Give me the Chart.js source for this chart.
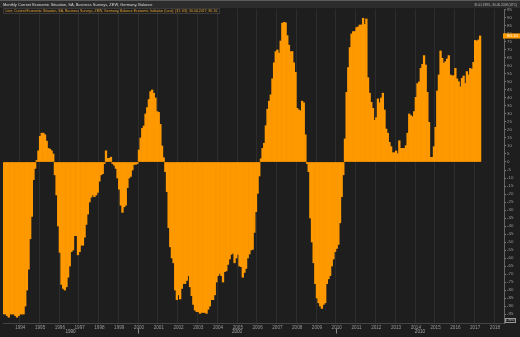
<!DOCTYPE html>
<html><head><meta charset="utf-8">
<script src="https://cdn.jsdelivr.net/npm/chart.js@4/dist/chart.umd.min.js"></script>
<style>
html,body{margin:0;padding:0;background:#1e1e1e;overflow:hidden;}
canvas{display:block;}
</style>
</head><body>
<canvas id="c" width="520" height="337"></canvas>
<script>
// ---- data ----
const titleText = 'Monthly Current Economic Situation, SA, Business Surveys, ZEW, Germany, Balance';
const rangeText = '31.01.1993 - 30.06.2018 (UTC)';
const legendText = 'Line; Current Economic Situation, SA, Business Surveys, ZEW, Germany, Balance Economic Indicator (Last); (31; 63); 30.04.2017; 80.10';
const lastValueLabel = '80.10';
const firstMonth = {year: 1993, month: 3};
const lastMonth = {year: 2018, month: 6};
const decadeLabels = ['1990', '2000', '2010'];
const yTickLabels = [95,90,85,80,75,70,65,60,55,50,45,40,35,30,25,20,15,10,5,0,-5,-10,-15,-20,-25,-30,-35,-40,-45,-50,-55,-60,-65,-70,-75,-80,-85,-90,-95];

const v1993 = [-95,-95,-96,-97,-95,-95,-95,-96,-97,-96];
const v1994 = [-95,-95,-95,-90,-80,-67,-48,-34,-11,-4,1,7];
const v1995 = [16,18,18,17,13,8.5,8,7,5,-8,-20.6,-40];
const v1996 = [-56.5,-76.5,-79,-80,-78,-72,-65,-56,-55,-46,-46,-58];
const v1997 = [-56,-52,-52,-47,-39,-32.5,-25,-22,-20.6,-21.7,-20.6,-19];
const v1998 = [-12,-8,-7.3,-1,7,2.3,2.3,3,-1,-2,-4,-10];
const v1999 = [-17,-27,-31.5,-28,-27,-16,-10,-9,-5,-1.5,-1.5,-1];
const v2000 = [7.5,15,21,22.5,30,34,39,44,45,43,40,31.5];
const v2001 = [31,23.5,10,2.7,-6,-18.5,-41,-53,-60,-63,-80,-86];
const v2002 = [-83,-85.6,-79,-76,-76,-74,-71,-78,-83.5,-89,-92.5,-93.5];
const v2003 = [-93.5,-94.6,-94,-94,-94,-94.6,-92,-90,-86,-86,-83,-75];
const v2004 = [-71,-69.6,-71,-75,-68.5,-68,-64,-60.6,-57.7,-57,-63,-60];
const v2005 = [-57.7,-65,-65.4,-72,-69,-66.5,-60,-57.5,-55,-54.6,-44,-31];
const v2006 = [-19.6,-8.75,2,8.5,11.7,22.7,33,38,42,52,62,69];
const v2007 = [70,68,75.6,86.7,87.3,87,79,73,69,69,62,56];
const v2008 = [33.5,32.5,32,38,37,17,-1,-6,-35,-50,-63,-76];
const v2009 = [-85,-88,-90,-91.5,-89,-88,-76,-73,-71,-65,-60.6,-56];
const v2010 = [-54,-51.5,-38,-21.7,-8,14.4,43.5,59,71.5,80,81.5,81.5];
const v2011 = [84,84.4,85.6,85.6,89.8,86,89.4,52.7,43,37.3,33.5,26];
const v2012 = [27.7,39.4,37,40,43,32.5,20.6,18,12.3,9.6,5.8,5.8];
const v2013 = [6.9,5.2,13.3,8.5,8.5,8.5,10.2,18,30,29,28.3,31.5];
const v2014 = [40.4,49,50,58.5,61,66.5,60.6,43.5,24.8,2.9,2.9,9.6];
const v2015 = [21.7,44.4,54.4,69.4,64.8,61.7,62.7,64.4,66.5,54.4,53.75,54];
const v2016 = [58.5,51.9,50.2,47,52.3,53.75,49,56.5,54.4,58.5,58,62.3];
const v2017 = [76,75.6,76.25,78.75];

// category labels (months)
const categories = [];
for (let y = firstMonth.year, m = firstMonth.month; y < lastMonth.year || (y === lastMonth.year && m <= lastMonth.month); ) {
  categories.push(y + '-' + String(m).padStart(2, '0'));
  m++; if (m > 12) { m = 1; y++; }
}
const observed = [].concat(v1993,v1994,v1995,v1996,v1997,v1998,v1999,v2000,v2001,v2002,v2003,v2004,v2005,v2006,v2007,v2008,v2009,v2010,v2011,v2012,v2013,v2014,v2015,v2016,v2017);
const values = categories.map((c, i) => i < observed.length ? observed[i] : null);

// ---- style ----
const BG = '#1e1e1e';
const ORANGE = '#ff9900';
const FONT = "'Liberation Sans', Arial, sans-serif";

function fitFont(ctx, text, targetWidth, base) {
  ctx.font = base + 'px ' + FONT;
  const w = ctx.measureText(text).width;
  return Math.max(3, base * targetWidth / w);
}

const decor = {
  id: 'decor',
  beforeDraw(chart) {
    const c = chart.ctx;
    c.save();
    c.fillStyle = BG;
    c.fillRect(0, 0, chart.width, chart.height);
    c.fillStyle = '#2c2c2c';
    c.fillRect(0, 0, chart.width, 8);
    c.fillStyle = '#5a5a5a';
    c.fillRect(0, 0, chart.width, 1);
    c.restore();
  },
  afterDraw(chart) {
    const c = chart.ctx;
    const xs = chart.scales.x, ys = chart.scales.y;
    const area = chart.chartArea;
    c.save();
    let fs = fitFont(c, titleText, 150, 5);
    c.font = fs + 'px ' + FONT;
    c.fillStyle = '#dcdcdc';
    c.textBaseline = 'middle';
    c.textAlign = 'left';
    c.fillText(titleText, 3, 4.8);
    fs = fitFont(c, rangeText, 43, 4);
    c.font = fs + 'px ' + FONT;
    c.fillStyle = '#bdbdbd';
    c.textAlign = 'right';
    c.fillText(rangeText, 517, 4.8);
    c.strokeStyle = '#3a3a3a';
    c.lineWidth = 1;
    c.strokeRect(3.5, 8.5, 216, 5);
    fs = fitFont(c, legendText, 212, 4);
    c.font = fs + 'px ' + FONT;
    c.fillStyle = '#e0a030';
    c.textAlign = 'left';
    c.fillText(legendText, 5.5, 11.2);
    const edge = i => (xs.getPixelForValue(i - 1) + xs.getPixelForValue(i)) / 2;
    const b2000 = edge(categories.indexOf('2000-01'));
    const b2010 = edge(categories.indexOf('2010-01'));
    const spans = [[area.left, b2000], [b2000, b2010], [b2010, area.right]];
    c.font = '4.6px ' + FONT;
    c.fillStyle = '#a8a8a8';
    c.textAlign = 'center';
    spans.forEach((s, k) => c.fillText(decadeLabels[k], (s[0] + s[1]) / 2, 331.5));
    c.strokeStyle = '#8a8a8a';
    [b2000, b2010].forEach(x => { c.beginPath(); c.moveTo(Math.round(x) + 0.5, 328.5); c.lineTo(Math.round(x) + 0.5, 333.5); c.stroke(); });
    const lastY = ys.getPixelForValue(observed[observed.length - 1]);
    c.fillStyle = ORANGE;
    c.fillRect(area.right - 1, lastY - 2.6, chart.width - area.right + 1, 5.2);
    c.font = '4.4px ' + FONT;
    c.fillStyle = '#ffffff';
    c.textAlign = 'left';
    c.fillText(lastValueLabel, area.right + 3, lastY + 0.2);
    c.strokeStyle = '#9a9a9a';
    c.strokeRect(505.5, 318.5, 10, 4);
    c.fillStyle = '#bbbbbb';
    c.font = '3px ' + FONT;
    c.textAlign = 'center';
    c.fillText('Linear', 510.5, 320.6);
    c.restore();
  }
};

new Chart(document.getElementById('c'), {
  type: 'bar',
  data: {
    labels: categories,
    datasets: [{
      data: values,
      backgroundColor: ORANGE,
      borderWidth: 0,
      barPercentage: 1,
      categoryPercentage: 1
    }]
  },
  options: {
    responsive: false,
    animation: false,
    devicePixelRatio: 1,
    layout: { padding: { left: 3, top: 9, right: 0, bottom: 0 } },
    plugins: { legend: { display: false }, tooltip: { enabled: false } },
    scales: {
      x: {
        offset: true,
        grid: {
          offset: true,
          drawTicks: false,
          color: ctx => (categories[ctx.index] && categories[ctx.index].endsWith('-01')) ? '#2d2d2d' : 'rgba(0,0,0,0)'
        },
        border: { color: '#444444' },
        ticks: {
          autoSkip: false, maxRotation: 0, minRotation: 0, padding: 2,
          font: { size: 4.6, family: FONT }, color: '#9a9a9a',
          callback: (v, i) => categories[i].endsWith('-01') ? categories[i].slice(0, 4) : ''
        },
        afterFit: s => { s.height = 14; }
      },
      y: {
        position: 'right',
        min: -100.6,
        max: 95.6,
        grid: { drawOnChartArea: false, drawTicks: true, tickLength: 2, color: '#808080' },
        border: { color: '#666666' },
        ticks: { autoSkip: false, stepSize: 5, padding: 1, font: { size: 4.4, family: FONT }, color: '#9a9a9a' },
        afterBuildTicks: s => { s.ticks = yTickLabels.map(v => ({ value: v })); },
        afterFit: s => { s.width = 16; }
      }
    }
  },
  plugins: [decor]
});
</script>
</body></html>
